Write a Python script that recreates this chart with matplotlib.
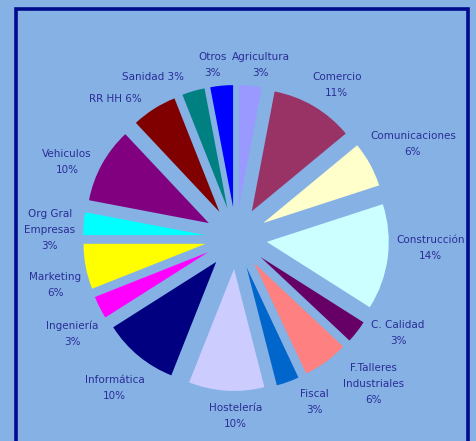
import numpy as np
import matplotlib
matplotlib.use('Agg')
from matplotlib import pyplot as plt
from matplotlib.patches import Rectangle

# Distribución por sectores (%), en sentido horario desde arriba
labels = ['Agricultura\n3%', 'Comercio\n11%', 'Comunicaciones\n6%', 'Construcción\n14%',
          'C. Calidad\n3%', 'F.Talleres\nIndustriales\n6%', 'Fiscal\n3%', 'Hostelería\n10%',
          'Informática\n10%', 'Ingeniería\n3%', 'Marketing\n6%', 'Org Gral\nEmpresas\n3%',
          'Vehiculos\n10%', 'RR HH 6%', 'Sanidad 3%', 'Otros\n3%']
values = [3, 11, 6, 14, 3, 6, 3, 10, 10, 3, 6, 3, 10, 6, 3, 3]
colors = ['#9999FF', '#993366', '#FFFFCC', '#CCFFFF', '#660066', '#FF8080', '#0066CC', '#CCCCFF',
          '#000080', '#FF00FF', '#FFFF00', '#00FFFF', '#800080', '#800000', '#008080', '#0000FF']

# pequeños desplazamientos de las etiquetas (px, y hacia abajo)
nudges = [(7, 12), (6, 7), (14, -4), (10, -13), (15, -19), (28, -4), (15, -11), (11, -8),
          (-3, 7), (2, 11), (2, 12), (-1, 10), (-6, 14), (-21, 18), (-31, 18), (-6, 12)]

bg = '#85B1E4'
text_color = '#2A2D96'

fig = plt.figure(figsize=(4.77, 4.41), dpi=100, facecolor=bg)
ax = fig.add_axes([0, 0, 1, 1])
ax.set_facecolor(bg)

cx, cy, r = 236, 441 - 238, 122
wedges, _ = ax.pie(values, colors=colors, startangle=90, counterclock=False,
                   explode=[31] * len(values), radius=r, center=(cx, cy),
                   wedgeprops=dict(linewidth=0), frame=True)

for w, lab, (dx, dy) in zip(wedges, labels, nudges):
    ang = np.deg2rad((w.theta1 + w.theta2) / 2)
    ax.text(cx + 186 * np.cos(ang) + dx, cy + 186 * np.sin(ang) - dy, lab,
            ha='center', va='center', fontsize=7.5, color=text_color,
            linespacing=1.75)

ax.add_patch(Rectangle((16, -20), 452, 441 - 9 + 20, fill=False,
                       edgecolor='#000A8C', linewidth=2.6))

ax.set_xlim(0, 477)
ax.set_ylim(0, 441)
ax.set_aspect('auto')
ax.axis('off')

fig.savefig('out.png', dpi=100, facecolor=bg)
